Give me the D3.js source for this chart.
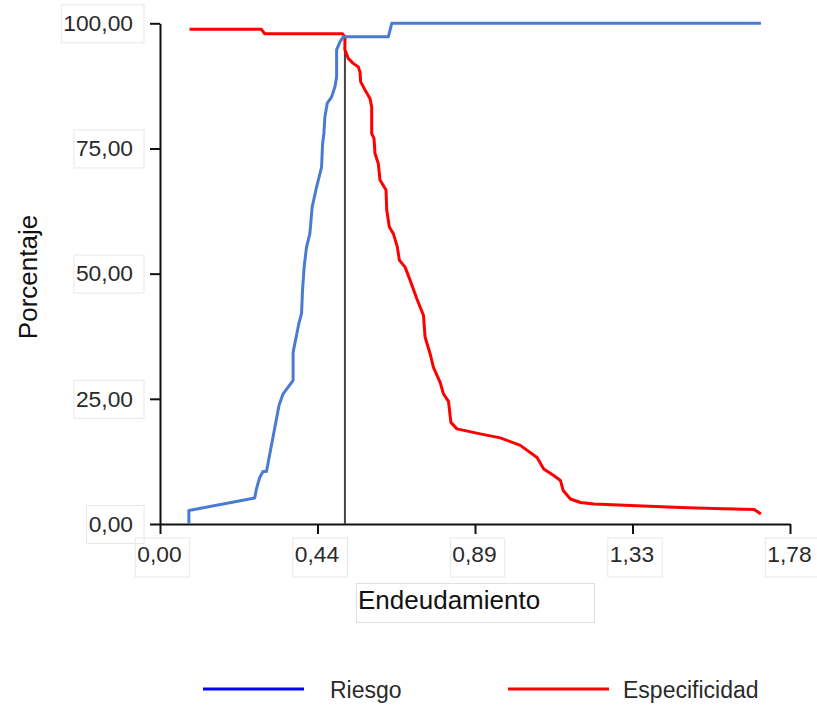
<!DOCTYPE html>
<html>
  <head>
    <meta charset="utf-8">
    <script src="https://d3js.org/d3.v7.min.js"></script>
    <style>
      body {
        margin: 0;
        background: white;
      }
      svg text {
        font-family: "Liberation Sans", Arial, sans-serif;
      }
    </style>
  </head>
<body>
  <script type="text/javascript">

    // datos
    var riesgoX = [0.0816, 0.0816, 0.2676, 0.2724, 0.2818, 0.2911, 0.3008, 0.3364, 0.3478, 0.3761,
      0.3761, 0.3922, 0.3999, 0.4027, 0.4072, 0.4140, 0.4234, 0.4299, 0.4424, 0.4565, 0.4594,
      0.4630, 0.4659, 0.4724, 0.4849, 0.4942, 0.4990, 0.4990, 0.5084, 0.5177, 0.6451, 0.6548, 1.6978];
    var riesgoY = [0, 2.7, 5.2, 7.0, 9.3, 10.5, 10.5, 23.7, 26.0, 28.7,
      34.3, 40.0, 42.0, 46.7, 51.3, 55.3, 58.0, 63.3, 67.3, 71.3, 76.0,
      78.0, 81.3, 84.0, 85.3, 87.3, 89.3, 94.7, 96.3, 97.3, 97.3, 100, 100];

    var especX = [0.0835, 0.2866, 0.2960, 0.5160, 0.5225, 0.5225, 0.5319, 0.5460, 0.5602, 0.5650,
      0.5670, 0.5792, 0.5933, 0.5981, 0.5981, 0.6046, 0.6075, 0.6168, 0.6216, 0.6386, 0.6406,
      0.6480, 0.6593, 0.6706, 0.6763, 0.6924, 0.7066, 0.7256, 0.7443, 0.7491, 0.7632, 0.7726,
      0.7915, 0.8009, 0.8151, 0.8219, 0.8389, 0.9048, 0.9615, 1.0181, 1.0654, 1.0841, 1.1124,
      1.1314, 1.1390, 1.1597, 1.1881, 1.2257, 1.3297, 1.4713, 1.5656, 1.6788, 1.6978];
    var especY = [98.8, 98.8, 97.9, 97.9, 97.3, 94.7, 93.0, 92.0, 91.3, 90.3,
      88.3, 86.7, 85.0, 83.3, 78.0, 77.0, 74.0, 72.0, 68.7, 66.7, 62.7,
      59.3, 58.0, 55.3, 52.7, 51.3, 48.7, 45.0, 41.7, 37.3, 34.0, 31.3,
      28.3, 26.0, 24.5, 20.3, 19.0, 18.0, 17.2, 15.7, 13.3, 11.0, 9.7,
      8.7, 6.7, 5.0, 4.3, 4.0, 3.7, 3.3, 3.1, 2.9, 2.0];

    // punto de corte
    var corteX = 0.5225;
    var corteY = 97.3;

    var xTicks = [0, 0.445, 0.89, 1.335, 1.78];
    var xTickLabels = ["0,00", "0,44", "0,89", "1,33", "1,78"];
    var yTicks = [0, 25, 50, 75, 100];
    var yTickLabels = ["0,00", "25,00", "50,00", "75,00", "100,00"];

    var series = ["Riesgo", "Especificidad"];

    var svg = d3.select("body")
      .append("svg")
        .attr("width", 817)
        .attr("height", 706);

    var x = d3.scaleLinear().domain([0, 1.78]).range([160, 790]);
    var y = d3.scaleLinear().domain([0, 100]).range([524, 23.3]);

    // ejes
    var xAxis = svg.append("g")
      .attr("transform", "translate(0,524)")
      .call(d3.axisBottom(x)
        .tickValues(xTicks)
        .tickSize(10)
        .tickSizeOuter(0)
        .tickPadding(12)
        .tickFormat(function (d, i) { return xTickLabels[i]; }));

    var yAxis = svg.append("g")
      .attr("transform", "translate(160,0)")
      .call(d3.axisLeft(y)
        .tickValues(yTicks)
        .tickSize(10)
        .tickSizeOuter(0)
        .tickPadding(17)
        .tickFormat(function (d, i) { return yTickLabels[i]; }));

    [xAxis, yAxis].forEach(function (a) {
      a.select(".domain").attr("stroke", "#111").attr("stroke-width", 2);
      a.selectAll(".tick line").attr("stroke", "#111").attr("stroke-width", 2);
      a.selectAll(".tick text")
        .style("font-size", "22.8px")
        .attr("fill", "#2a2a2a");
    });
    xAxis.selectAll(".tick text").attr("dx", "-1px");

    // cajas tenues alrededor de las etiquetas
    xAxis.selectAll(".tick").each(function () {
      var t = d3.select(this);
      var b = t.select("text").node().getBBox();
      t.insert("rect", "text")
        .attr("x", b.x - 2)
        .attr("y", 14)
        .attr("width", b.width + 10)
        .attr("height", 39)
        .attr("fill", "none")
        .attr("stroke", "#e8e8e8");
    });
    yAxis.selectAll(".tick").each(function () {
      var t = d3.select(this);
      var b = t.select("text").node().getBBox();
      t.insert("rect", "text")
        .attr("x", b.x - 2)
        .attr("y", -19)
        .attr("width", -16 - (b.x - 2))
        .attr("height", 38)
        .attr("fill", "none")
        .attr("stroke", "#e8e8e8");
    });

    // titulos de los ejes
    svg.append("rect")
      .attr("x", 356.5)
      .attr("y", 583.5)
      .attr("width", 238)
      .attr("height", 39)
      .attr("fill", "none")
      .attr("stroke", "#e0e0e0");
    svg.append("text")
      .attr("x", 358)
      .attr("y", 609.3)
      .style("font-size", "26px")
      .attr("fill", "#111")
      .text("Endeudamiento");

    svg.append("text")
      .attr("transform", "translate(37,277) rotate(-90)")
      .attr("text-anchor", "middle")
      .style("font-size", "26px")
      .attr("fill", "#111")
      .text("Porcentaje");

    // linea vertical del punto de corte
    svg.append("line")
      .attr("x1", x(corteX))
      .attr("x2", x(corteX))
      .attr("y1", y(corteY))
      .attr("y2", y(0))
      .attr("stroke", "#444")
      .attr("stroke-width", 2);

    var line = d3.line()
      .x(function (d) { return x(d[0]); })
      .y(function (d) { return y(d[1]); });

    svg.append("path")
      .datum(especX.map(function (v, i) { return [v, especY[i]]; }))
      .attr("d", line)
      .attr("fill", "none")
      .attr("stroke", "#ff0000")
      .attr("stroke-width", 3)
      .attr("stroke-linejoin", "round");

    svg.append("path")
      .datum(riesgoX.map(function (v, i) { return [v, riesgoY[i]]; }))
      .attr("d", line)
      .attr("fill", "none")
      .attr("stroke", "#4a7bd4")
      .attr("stroke-width", 3)
      .attr("stroke-linejoin", "round");

    // leyenda
    var legendColors = ["#0000ff", "#ff0000"];
    var legendX = [203, 508];
    var legend = svg.selectAll(".legend")
      .data(series)
      .enter()
      .append("g")
        .attr("class", "legend")
        .attr("transform", function (d, i) { return "translate(" + legendX[i] + ",689)"; });

    legend.append("line")
      .attr("x1", 0)
      .attr("x2", 101)
      .attr("stroke", function (d, i) { return legendColors[i]; })
      .attr("stroke-width", 3);

    legend.append("text")
      .attr("x", function (d, i) { return i == 0 ? 127 : 115; })
      .attr("y", 8.7)
      .style("font-size", "23px")
      .attr("fill", "#2a2a2a")
      .text(function (d) { return d; });

  </script>
</body>
</html>
